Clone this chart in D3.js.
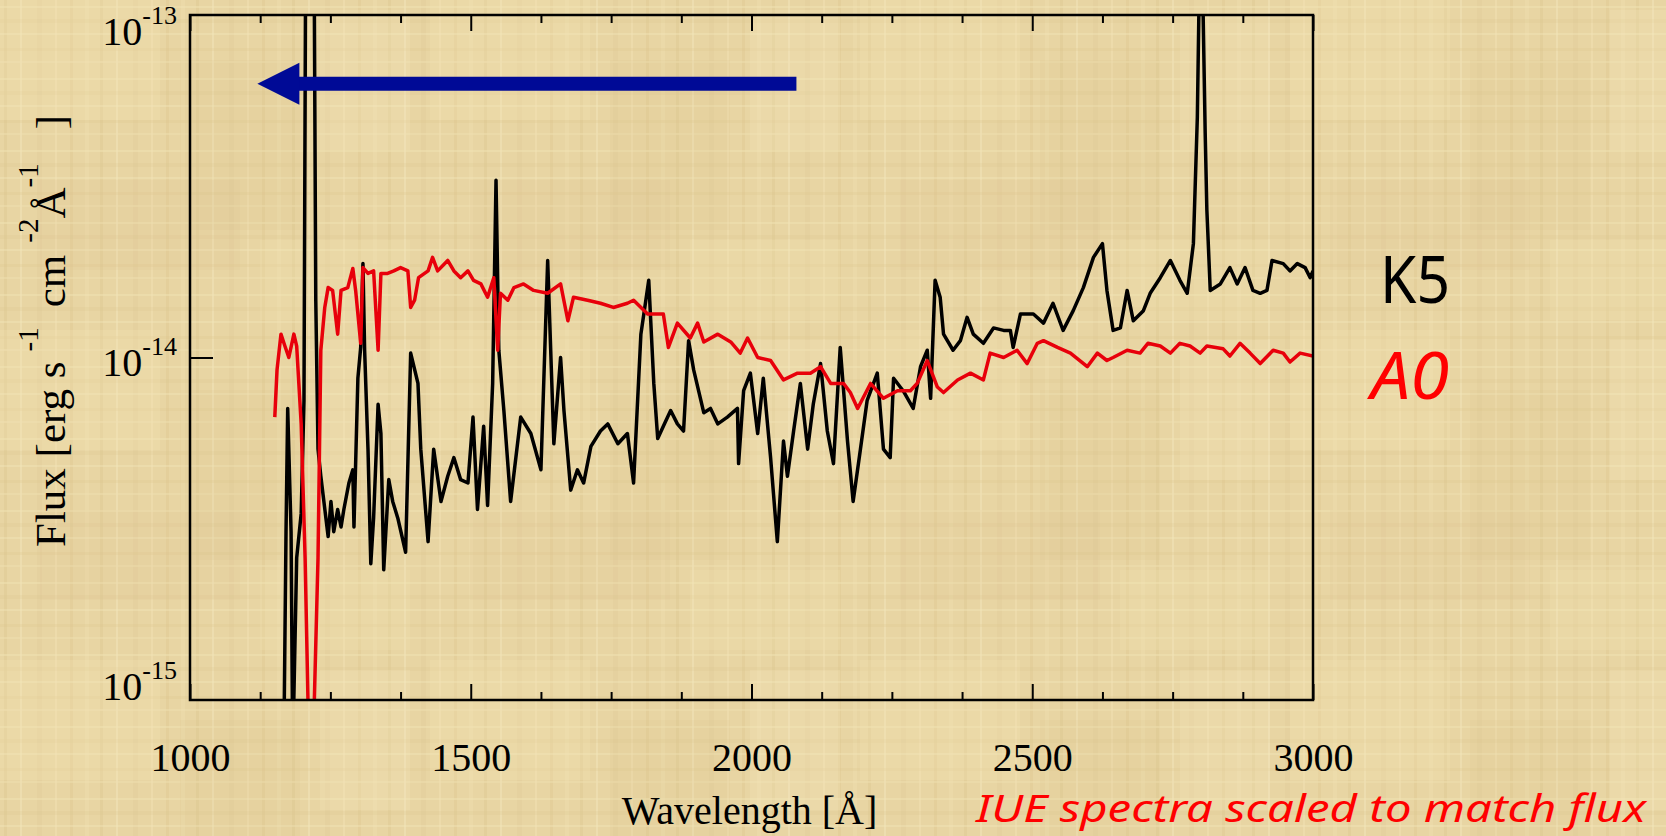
<!DOCTYPE html>
<html>
<head>
<meta charset="utf-8">
<script src="https://cdn.jsdelivr.net/npm/d3@7"></script>
<style>
  html, body { margin: 0; padding: 0; background: #e8d5a3; }
  svg { display: block; }
</style>
</head>
<body>
<div id="chart"></div>
<script>
// IUE spectra, flux in units of 1e-14 erg s^-1 cm^-2 A^-1
const k5Wave = [
  1167, 1171, 1174, 1180, 1183, 1190, 1198, 1203, 1206, 1221,
  1224, 1228, 1233, 1246, 1251, 1256, 1263, 1269, 1274, 1283,
  1290, 1292, 1299, 1304, 1308, 1311, 1317, 1322, 1327, 1335,
  1340, 1345, 1354, 1361, 1370, 1384, 1393, 1406, 1411, 1424,
  1434, 1447, 1459, 1470, 1482, 1495, 1504, 1512, 1523, 1530,
  1539, 1545, 1550, 1559, 1571, 1589, 1607, 1625, 1637, 1648,
  1660, 1666, 1678, 1690, 1701, 1714, 1731, 1744, 1762, 1779,
  1790, 1803, 1817, 1826, 1833, 1843, 1856, 1868, 1879, 1888,
  1897, 1915, 1927, 1940, 1957, 1975, 1977, 1986, 1998, 2011,
  2021, 2034, 2046, 2057, 2064, 2075, 2087, 2100, 2110, 2123,
  2135, 2146, 2158, 2171, 2181, 2194, 2206, 2224, 2235, 2247,
  2253, 2270, 2288, 2301, 2313, 2319, 2327, 2336, 2342, 2359,
  2372, 2384, 2395, 2413, 2431, 2449, 2461, 2466, 2479, 2502,
  2520, 2537, 2555, 2573, 2591, 2609, 2625, 2633, 2644, 2657,
  2669, 2680, 2698, 2710, 2728, 2746, 2763, 2776, 2787, 2794,
  2797, 2804, 2808, 2811, 2817, 2835, 2852, 2865, 2879, 2893,
  2906, 2918, 2927, 2947, 2959, 2972, 2986, 2995, 3000
];
const k5Flux = [
  0.07, 0.31, 0.71, 0.31, 0.07, 0.26, 0.35, 0.75, 15, 15,
  1.47, 0.54, 0.45, 0.30, 0.38, 0.31, 0.36, 0.32, 0.36, 0.43,
  0.47, 0.32, 0.87, 1.07, 1.88, 1.05, 0.54, 0.25, 0.34, 0.73,
  0.60, 0.24, 0.44, 0.38, 0.34, 0.27, 1.03, 0.84, 0.54, 0.29,
  0.54, 0.38, 0.45, 0.51, 0.44, 0.43, 0.67, 0.36, 0.63, 0.37,
  0.84, 3.29, 1.05, 0.70, 0.38, 0.67, 0.60, 0.47, 1.92, 0.56,
  1.00, 0.70, 0.41, 0.47, 0.43, 0.55, 0.61, 0.64, 0.56, 0.60,
  0.43, 1.17, 1.68, 0.84, 0.58, 0.63, 0.70, 0.64, 0.61, 1.12,
  0.92, 0.69, 0.71, 0.64, 0.67, 0.71, 0.49, 0.80, 0.90, 0.60,
  0.87, 0.51, 0.29, 0.57, 0.45, 0.61, 0.84, 0.54, 0.73, 0.96,
  0.61, 0.49, 1.07, 0.57, 0.38, 0.54, 0.75, 0.90, 0.54, 0.51,
  0.87, 0.80, 0.71, 0.94, 1.05, 0.76, 1.68, 1.50, 1.17, 1.05,
  1.12, 1.31, 1.17, 1.10, 1.22, 1.20, 1.20, 1.07, 1.34, 1.34,
  1.26, 1.44, 1.20, 1.37, 1.60, 1.96, 2.15, 1.57, 1.20, 1.22,
  1.57, 1.28, 1.37, 1.54, 1.71, 1.92, 1.68, 1.54, 2.15, 5.02,
  10.8, 10.8, 4.51, 2.69, 1.57, 1.64, 1.83, 1.64, 1.83, 1.57,
  1.54, 1.57, 1.92, 1.88, 1.79, 1.88, 1.83, 1.71, 1.79
];

const a0Wave = [
  1151, 1155, 1162, 1169, 1176, 1185, 1190, 1198, 1205, 1212,
  1219, 1228, 1233, 1240, 1246, 1254, 1263, 1269, 1281, 1290,
  1295, 1304, 1308, 1317, 1327, 1335, 1340, 1352, 1363, 1375,
  1388, 1393, 1400, 1407, 1424, 1432, 1441, 1459, 1470, 1482,
  1495, 1505, 1518, 1530, 1541, 1548, 1553, 1566, 1577, 1594,
  1612, 1637, 1660, 1673, 1683, 1708, 1731, 1754, 1779, 1790,
  1815, 1843, 1852, 1868, 1891, 1904, 1915, 1940, 1963, 1980,
  1993, 2011, 2034, 2057, 2082, 2105, 2123, 2141, 2164, 2176,
  2189, 2212, 2235, 2260, 2283, 2295, 2313, 2331, 2342, 2367,
  2390, 2413, 2425, 2449, 2473, 2491, 2509, 2520, 2545, 2568,
  2598, 2616, 2633, 2644, 2669, 2692, 2706, 2728, 2746, 2763,
  2781, 2799, 2811, 2840, 2852, 2870, 2888, 2906, 2929, 2947,
  2959, 2977, 3000
];
const a0Flux = [
  0.67, 0.92, 1.17, 1.08, 1.00, 1.17, 1.08, 0.64, 0.26, 0.07,
  0.07, 0.26, 1.05, 1.40, 1.60, 1.57, 1.17, 1.57, 1.60, 1.82,
  1.57, 1.10, 1.83, 1.76, 1.79, 1.05, 1.76, 1.76, 1.79, 1.83,
  1.79, 1.40, 1.47, 1.71, 1.79, 1.96, 1.79, 1.92, 1.79, 1.71,
  1.79, 1.68, 1.64, 1.50, 1.71, 1.05, 1.54, 1.47, 1.60, 1.64,
  1.57, 1.54, 1.64, 1.28, 1.50, 1.47, 1.44, 1.40, 1.44, 1.47,
  1.34, 1.34, 1.07, 1.26, 1.14, 1.26, 1.11, 1.17, 1.11, 1.03,
  1.14, 1.00, 0.98, 0.86, 0.90, 0.90, 0.94, 0.84, 0.84, 0.79,
  0.71, 0.84, 0.76, 0.80, 0.80, 0.84, 0.98, 0.82, 0.79, 0.86,
  0.90, 0.86, 1.03, 1.00, 1.05, 0.96, 1.10, 1.12, 1.07, 1.03,
  0.94, 1.03, 0.98, 1.00, 1.05, 1.03, 1.10, 1.08, 1.03, 1.10,
  1.08, 1.03, 1.08, 1.06, 1.01, 1.10, 1.03, 0.96, 1.05, 1.03,
  0.97, 1.03, 1.01
];

const xLabelTicks = [1000, 1500, 2000, 2500, 3000];
const xMinorStep = 125;
const yLabelTicks = [-13, -14, -15];
const fluxUnit = 1e-14;
// arrow pointing to short wavelengths
const arrowFrom = 2080, arrowTo = 1120, arrowFlux = 6.3e-14;

const W = 1666, H = 836;
const margins = { top: 15, left: 190, right: 353, bot: 136 };
const plotW = W - margins.left - margins.right;
const plotH = H - margins.top - margins.bot;

const x = d3.scaleLinear().domain([1000, 3000]).range([margins.left, margins.left + plotW]);
const y = d3.scaleLog().domain([1e-15, 1e-13]).range([margins.top + plotH, margins.top]);

const svg = d3.select("#chart").append("svg").attr("width", W).attr("height", H);
const defs = svg.append("defs");

// parchment background
const pat = defs.append("pattern").attr("id", "paper")
  .attr("width", 96).attr("height", 72).attr("patternUnits", "userSpaceOnUse");
pat.append("rect").attr("width", 96).attr("height", 72).attr("fill", "#e8d5a3");
[[4, 3, "#d8c08a", 0.3], [20, 2, "#f4e7bf", 0.45], [37, 5, "#dcc592", 0.25],
 [55, 2, "#f1e2b4", 0.5], [70, 3, "#d6bd85", 0.25], [85, 4, "#efdfae", 0.4]]
  .forEach(([p, w, c, o]) => {
    pat.append("rect").attr("x", p).attr("y", 0).attr("width", w).attr("height", 72)
      .attr("fill", c).attr("opacity", o);
  });
[[6, 2, "#f2e4b6", 0.45], [19, 4, "#d9c18b", 0.2], [33, 2, "#f3e5b9", 0.4],
 [48, 3, "#dbc38d", 0.25], [61, 2, "#f0e0b1", 0.45]]
  .forEach(([p, w, c, o]) => {
    pat.append("rect").attr("x", 0).attr("y", p).attr("width", 96).attr("height", w)
      .attr("fill", c).attr("opacity", o);
  });
const pat2 = defs.append("pattern").attr("id", "blotch")
  .attr("width", 430).attr("height", 330).attr("patternUnits", "userSpaceOnUse");
[[0, 0, 160, 120, "#f3e4b5", 0.25], [180, 60, 120, 170, "#d8bf87", 0.12],
 [320, 10, 90, 140, "#f5e8c0", 0.22], [40, 180, 200, 90, "#dcc490", 0.14],
 [260, 240, 150, 80, "#f2e3b3", 0.22]]
  .forEach(([bx, by, bw, bh, c, o]) => {
    pat2.append("rect").attr("x", bx).attr("y", by).attr("width", bw).attr("height", bh)
      .attr("fill", c).attr("opacity", o);
  });
svg.append("rect").attr("width", W).attr("height", H).attr("fill", "url(#paper)");
svg.append("rect").attr("width", W).attr("height", H).attr("fill", "url(#blotch)");

defs.append("clipPath").attr("id", "plotClip").append("rect")
  .attr("x", margins.left).attr("y", margins.top).attr("width", plotW).attr("height", plotH);

// spectra
const line = d3.line()
  .x((d) => x(d[0]))
  .y((d) => y(d[1] * fluxUnit));
const dataGroup = svg.append("g").attr("clip-path", "url(#plotClip)");
dataGroup.append("path")
  .datum(k5Wave.map((w, i) => [w, k5Flux[i]]))
  .attr("d", line)
  .attr("fill", "none").attr("stroke", "#000").attr("stroke-width", 3.5)
  .attr("stroke-linejoin", "round");
dataGroup.append("path")
  .datum(a0Wave.map((w, i) => [w, a0Flux[i]]))
  .attr("d", line)
  .attr("fill", "none").attr("stroke", "#e8000b").attr("stroke-width", 3.5)
  .attr("stroke-linejoin", "round");

// axes
const minorTicks = d3.range(1000, 3001, xMinorStep).filter((v) => !xLabelTicks.includes(v));
const noDomain = (g) => g.select(".domain").remove();
const serif = "'Liberation Serif', 'Times New Roman', serif";

svg.append("g").attr("transform", `translate(0,${margins.top + plotH})`)
  .call(d3.axisBottom(x).tickValues(minorTicks).tickSize(-8).tickFormat(""))
  .call(noDomain);
svg.append("g").attr("transform", `translate(0,${margins.top})`)
  .call(d3.axisTop(x).tickValues(minorTicks).tickSize(-8).tickFormat(""))
  .call(noDomain);
svg.append("g").attr("transform", `translate(0,${margins.top})`)
  .call(d3.axisTop(x).tickValues(xLabelTicks).tickSize(-16).tickFormat(""))
  .call(noDomain);
const xAxis = svg.append("g").attr("transform", `translate(0,${margins.top + plotH})`)
  .call(d3.axisBottom(x).tickValues(xLabelTicks).tickSize(-16).tickPadding(43).tickFormat(d3.format("d")))
  .call(noDomain);
xAxis.selectAll("text").attr("font-family", serif).attr("font-size", 40).attr("fill", "#000");
svg.selectAll(".tick line").attr("stroke", "#000").attr("stroke-width", 2);

svg.append("g").attr("transform", `translate(${margins.left},0)`)
  .call(d3.axisLeft(y).tickValues([1e-14]).tickSize(-23).tickFormat(""))
  .call(noDomain)
  .selectAll("line").attr("stroke", "#000").attr("stroke-width", 2);

svg.append("rect")
  .attr("x", margins.left).attr("y", margins.top).attr("width", plotW).attr("height", plotH)
  .attr("fill", "none").attr("stroke", "#000").attr("stroke-width", 2.5);

// y tick labels 10^n, kept inside the frame's vertical span
const yLab = svg.append("g").attr("font-family", serif).attr("fill", "#000");
yLabelTicks.forEach((e) => {
  const base = Math.min(Math.max(y(Math.pow(10, e)) + 18, margins.top + 30), margins.top + plotH);
  const t = yLab.append("text").attr("x", margins.left - 13).attr("y", base)
    .attr("text-anchor", "end").attr("font-size", 40);
  t.append("tspan").text("10");
  t.append("tspan").attr("font-size", 26).attr("dy", -21).text(String(e));
});

// axis titles
svg.append("text")
  .attr("x", x(2000) - 2).attr("y", 824)
  .attr("text-anchor", "middle")
  .attr("font-family", serif).attr("font-size", 40)
  .text("Wavelength [\u00c5]");

const yTitle = svg.append("text")
  .attr("transform", "translate(65,547) rotate(-90)")
  .attr("font-family", serif).attr("font-size", 43);
yTitle.append("tspan").text("Flux [erg s");
yTitle.append("tspan").attr("dx", 10).attr("dy", -27).attr("font-size", 29).text("-1");
yTitle.append("tspan").attr("dx", 20).attr("dy", 27).text("cm");
yTitle.append("tspan").attr("dx", 12).attr("dy", -27).attr("font-size", 29).text("-2");
yTitle.append("tspan").attr("dy", 27).text("\u00c5");
yTitle.append("tspan").attr("dy", -27).attr("font-size", 29).text("-1");
yTitle.append("tspan").attr("dx", 34).attr("dy", 27).text("]");

// arrow
const ay = y(arrowFlux);
svg.append("line")
  .attr("x1", x(arrowFrom)).attr("x2", x(arrowTo) + 38)
  .attr("y1", ay).attr("y2", ay)
  .attr("stroke", "#000a96").attr("stroke-width", 14);
svg.append("path")
  .attr("d", d3.line()([[x(arrowTo), ay], [x(arrowTo) + 42, ay - 21], [x(arrowTo) + 42, ay + 21]]) + "Z")
  .attr("fill", "#000a96");

// series labels and note
const comic = "'Comic Sans MS', 'Noto Sans', sans-serif";
svg.append("text").attr("x", 1380).attr("y", 303)
  .attr("font-family", comic).attr("font-size", 66).attr("fill", "#000")
  .attr("textLength", 70).attr("lengthAdjust", "spacingAndGlyphs")
  .text("K5");
svg.append("text").attr("x", 1371).attr("y", 399)
  .attr("font-family", comic).attr("font-size", 66).attr("font-style", "italic").attr("fill", "#ff0000")
  .attr("textLength", 78).attr("lengthAdjust", "spacingAndGlyphs")
  .text("A0");
svg.append("text").attr("x", 976).attr("y", 822)
  .attr("font-family", comic).attr("font-size", 38).attr("font-style", "italic").attr("fill", "#ff0000")
  .attr("textLength", 670).attr("lengthAdjust", "spacingAndGlyphs")
  .text("IUE spectra scaled to match flux");
</script>
</body>
</html>
